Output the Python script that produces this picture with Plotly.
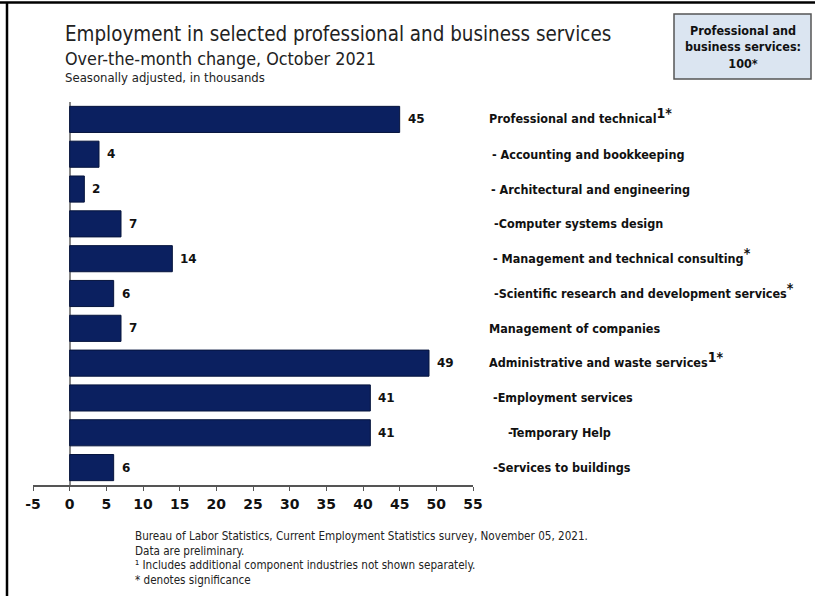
import plotly.graph_objects as go

# Over-the-month change, October 2021 (thousands, seasonally adjusted)
industries = [
    "Professional and technical",
    "Accounting and bookkeeping",
    "Architectural and engineering",
    "Computer systems design",
    "Management and technical consulting",
    "Scientific research and development services",
    "Management of companies",
    "Administrative and waste services",
    "Employment services",
    "Temporary Help",
    "Services to buildings",
]
changes = [45, 4, 2, 7, 14, 6, 7, 49, 41, 41, 6]
prefixes = ["", "- ", "- ", "-", "- ", "-", "", "", "-", "-", "-"]
footnote_marks = ["1*", "", "", "", "*", "*", "", "1*", "", "", ""]
label_indent = [0, 3, 2, 5, 4, 5, 0, 0, 4, 19, 4]
tick_values = [-5, 0, 5, 10, 15, 20, 25, 30, 35, 40, 45, 50, 55]

W, H = 815, 596
ML, MR, MT, MB = 33, 342, 102, 111
PW, PH = W - ML - MR, H - MT - MB


def px(x):
    return (x - ML) / PW


def py(y):
    return (H - MB - y) / PH


BAR = "#0b2060"
LABEL_FONT = "DejaVu Sans Condensed"

fig = go.Figure(
    go.Bar(
        x=changes,
        y=industries,
        orientation="h",
        marker=dict(color=BAR, line=dict(color="#06143d", width=1)),
        width=0.75,
        hoverinfo="x+y",
    )
)

annotations = []
# value labels at the bar ends
for name, v in zip(industries, changes):
    annotations.append(dict(
        x=v, y=name, xref="x", yref="y", text=f"<b>{v}</b>",
        showarrow=False, xanchor="left", xshift=6,
        font=dict(family="DejaVu Sans", size=12, color="#111"),
    ))
# industry names to the right of the plot
for name, pre, mark, ind in zip(industries, prefixes, footnote_marks, label_indent):
    text = f"<b>{pre}{name}</b>"
    shift = 0
    if mark:
        text += f"<sup><b><span style='font-size:14px'>{mark}</span></b></sup>"
        shift = 3.5
    annotations.append(dict(
        x=px(487 + ind), y=name, xref="paper", yref="y", text=text,
        showarrow=False, xanchor="left", yanchor="middle", yshift=shift,
        font=dict(family=LABEL_FONT, size=12.5, color="#111"),
    ))

# titles
annotations += [
    dict(x=px(63), y=py(34), xref="paper", yref="paper", showarrow=False,
         xanchor="left", yanchor="middle", text="Employment in selected professional and business services",
         font=dict(family="DejaVu Sans Condensed", size=20.4, color="#222")),
    dict(x=px(63), y=py(58), xref="paper", yref="paper", showarrow=False,
         xanchor="left", yanchor="middle", text="Over-the-month change, October 2021",
         font=dict(family="DejaVu Sans Condensed", size=17.8, color="#222")),
    dict(x=px(63), y=py(78), xref="paper", yref="paper", showarrow=False,
         xanchor="left", yanchor="middle", text="Seasonally adjusted, in thousands",
         font=dict(family="DejaVu Sans Condensed", size=13, color="#222")),
    dict(x=px(743), y=py(47), xref="paper", yref="paper", showarrow=False,
         xanchor="center", yanchor="middle",
         text="<b>Professional and<br>business services:<br>100*</b>",
         font=dict(family=LABEL_FONT, size=12.5, color="#111")),
]

# source notes
notes = [
    "Bureau of Labor Statistics, Current Employment Statistics survey, November 05, 2021.",
    "Data are preliminary.",
    "¹ Includes additional component industries not shown separately.",
    "* denotes significance",
]
for i, t in enumerate(notes):
    annotations.append(dict(
        x=px(133), y=py(536 + 14.7 * i), xref="paper", yref="paper", showarrow=False,
        xanchor="left", yanchor="middle", text=t,
        font=dict(family="DejaVu Sans Condensed", size=11.6, color="#222"),
    ))

shapes = [
    # summary box
    dict(type="rect", xref="paper", yref="paper", x0=px(674), x1=px(811), y0=py(79), y1=py(14),
         fillcolor="#dbe5f1", line=dict(color="#555", width=1.5)),
    # frame lines
    dict(type="line", xref="paper", yref="paper", x0=px(0), x1=px(815), y0=py(2.5), y1=py(2.5),
         line=dict(color="#000", width=2.5)),
    dict(type="line", xref="paper", yref="paper", x0=px(7), x1=px(7), y0=py(2), y1=py(596),
         line=dict(color="#000", width=2.5)),
]

fig.update_layout(
    width=W, height=H,
    margin=dict(l=ML, r=MR, t=MT, b=MB, autoexpand=False),
    plot_bgcolor="white", paper_bgcolor="white",
    showlegend=False,
    bargap=0.25,
    annotations=annotations,
    shapes=shapes,
    xaxis=dict(
        range=[-5, 55], tickvals=tick_values, ticktext=[f"<b>{t}</b>" for t in tick_values],
        showgrid=False, zeroline=True, zerolinecolor="#888", zerolinewidth=1.5,
        showline=True, linecolor="#555", linewidth=1.5,
        ticks="outside", ticklen=4, tickcolor="#555",
        ticklabelstandoff=1,
        tickfont=dict(family="DejaVu Sans", size=14, color="#111"),
    ),
    yaxis=dict(
        autorange="reversed", showticklabels=False, showgrid=False,
        showline=False, zeroline=False, ticks="",
    ),
)

fig.write_html("out.html")
